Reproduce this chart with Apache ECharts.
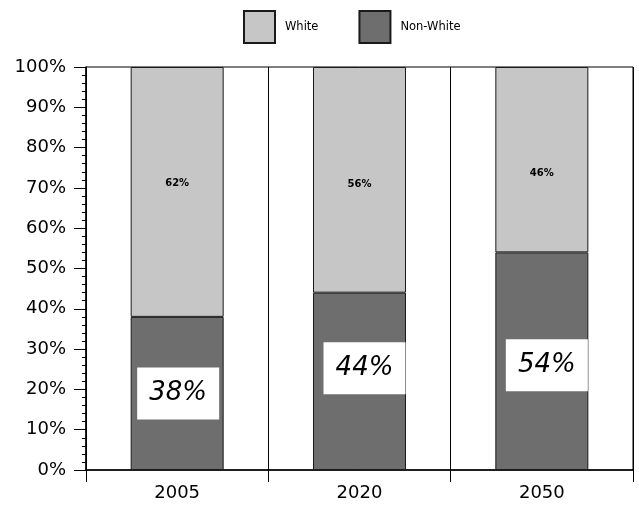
<!DOCTYPE html>
<html>
<head>
<meta charset="utf-8">
<script src="https://cdn.jsdelivr.net/npm/echarts@6/dist/echarts.min.js"></script>
<style>
html,body{margin:0;padding:0;background:#fff;}
#chart{width:639px;height:506px;}
</style>
</head>
<body>
<div id="chart"></div>
<script>
const categories = ['2005', '2020', '2050'];
const whiteValues = [62, 56, 46];
const nonWhiteValues = [38, 44, 54];
const seriesNames = ['White', 'Non-White'];

// label placement (style, not data)
const whiteLabelDistance = [111, 112, 101];
const nonWhiteLabelOffset = [[1, 0], [5, -13], [5, 4]];

const chart = echarts.init(document.getElementById('chart'), null, {renderer: 'canvas'});

const option = {
  backgroundColor: '#fff',
  animation: false,
  legend: {
    data: seriesNames,
    icon: 'rect',
    top: 5,
    left: 238,
    itemWidth: 31,
    itemHeight: 32,
    itemGap: 40,
    textStyle: {fontFamily: 'DejaVu Sans', fontSize: 11.5, color: '#000', padding: [0, 0, 0, 5]}
  },
  grid: {left: 86, right: 6, top: 67, bottom: 36, show: true, borderColor: '#000', borderWidth: 1},
  xAxis: {
    type: 'category',
    data: categories,
    axisLine: {lineStyle: {color: '#000', width: 1.5}},
    axisTick: {show: true, length: 12, lineStyle: {color: '#000'}},
    splitLine: {show: true, lineStyle: {color: '#000', width: 1}},
    axisLabel: {fontFamily: 'DejaVu Sans', fontSize: 18, color: '#000', margin: 14}
  },
  yAxis: {
    type: 'value',
    min: 0, max: 100, interval: 10,
    axisLine: {show: true, lineStyle: {color: '#000', width: 1.5}},
    axisTick: {show: true, length: 12, lineStyle: {color: '#000'}},
    minorTick: {show: true, splitNumber: 5, length: 4, lineStyle: {color: '#000'}},
    splitLine: {show: false},
    axisLabel: {formatter: '{value}%', fontFamily: 'DejaVu Sans', fontSize: 18, color: '#000', margin: 20}
  },
  series: [
    {
      name: 'Non-White',
      type: 'bar',
      stack: 'total',
      barWidth: '51%',
      itemStyle: {color: '#6e6e6e', borderColor: '#1a1a1a', borderWidth: 1},
      data: nonWhiteValues.map((v, i) => ({
        value: v,
        label: {
          show: true,
          position: 'inside',
          offset: nonWhiteLabelOffset[i],
          formatter: '{c}%',
          fontFamily: 'DejaVu Sans',
          fontStyle: 'italic',
          fontWeight: 'normal',
          fontSize: 26,
          color: '#000',
          backgroundColor: '#fff',
          width: 62,
          height: 32,
          lineHeight: 32,
          align: 'center',
          padding: [10, 10]
        }
      }))
    },
    {
      name: 'White',
      type: 'bar',
      stack: 'total',
      barWidth: '51%',
      itemStyle: {color: '#c6c6c6', borderColor: '#1a1a1a', borderWidth: 1},
      data: whiteValues.map((v, i) => ({
        value: v,
        label: {
          show: true,
          position: 'insideTop',
          distance: whiteLabelDistance[i],
          formatter: '{c}%',
          fontFamily: 'DejaVu Sans',
          fontWeight: 'bold',
          fontSize: 10,
          color: '#000'
        }
      }))
    }
  ]
};
chart.setOption(option);
</script>
</body>
</html>
